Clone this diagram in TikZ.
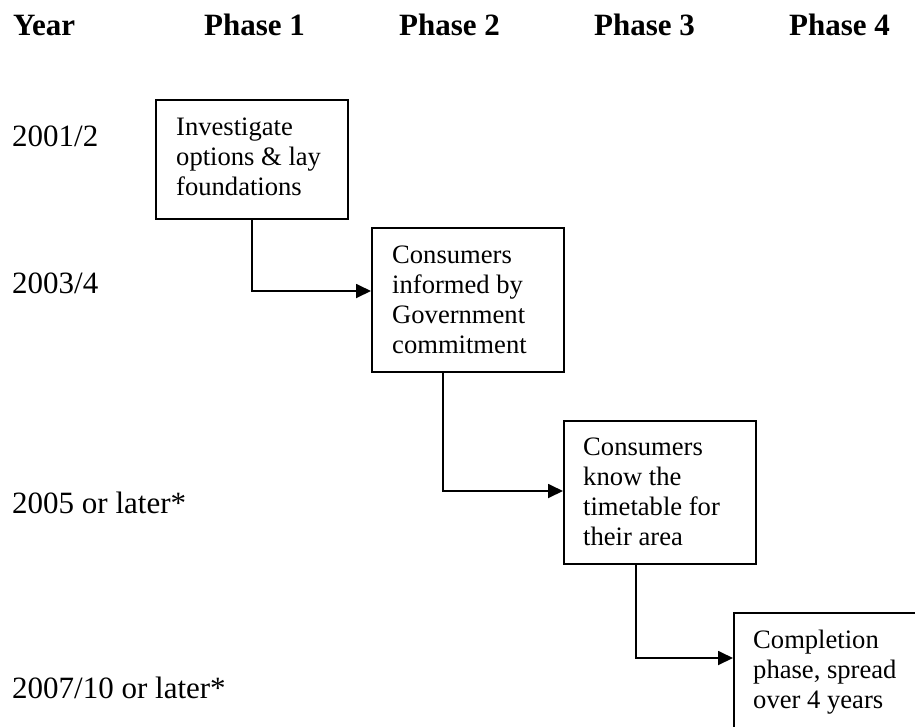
\documentclass[tikz,border=0pt]{standalone}
\usepackage{fontspec}
\setmainfont{Liberation Serif}
\usetikzlibrary{arrows.meta}
\begin{document}
\begin{tikzpicture}[x=1pt,y=-1pt,
  box/.style={draw, line width=1.8pt, inner sep=0pt, anchor=north west},
  boxtext/.style={anchor=base west, inner sep=0pt},
  yeartext/.style={anchor=base west, inner sep=0pt, font=\fontsize{31}{36}\selectfont},
  headtext/.style={anchor=base west, inner sep=0pt, font=\fontsize{31}{36}\selectfont\bfseries},
  conn/.style={line width=1.8pt, -{Triangle[length=15pt,width=14pt]}}]
\useasboundingbox (0,0) rectangle (915,726);
\clip (0,0) rectangle (915,726);
% headers
\node[headtext] (hy) at (13,35) {Year};
\node[headtext] (h1) at (204,35) {Phase 1};
\node[headtext] (h2) at (399,35) {Phase 2};
\node[headtext] (h3) at (594,35) {Phase 3};
\node[headtext] (h4) at (789,35) {Phase 4};
% years
\node[yeartext] (y1) at (12,146) {2001/2};
\node[yeartext] (y2) at (12,293) {2003/4};
\node[yeartext] (y3) at (12,513) {2005 or later*};
\node[yeartext] (y4) at (12,698) {2007/10 or later*};
% boxes
\node[box, minimum width=192pt, minimum height=119pt] (b1) at (155,99) {};
\node[box, minimum width=192pt, minimum height=144pt] (b2) at (371,227) {};
\node[box, minimum width=192pt, minimum height=143pt] (b3) at (563,420) {};
\node[box, minimum width=200pt, minimum height=140pt] (b4) at (733,612) {};
% box texts
\newcommand{\boxlines}[1]{\parbox[t]{190pt}{\fontsize{26.6}{30.3}\selectfont\raggedright #1}}
\node[boxtext] (t1) at (176,135) {\boxlines{Investigate\\options \& lay\\foundations}};
\node[boxtext] (t2) at (392,263) {\boxlines{Consumers\\informed by\\Government\\commitment}};
\node[boxtext] (t3) at (583,455) {\boxlines{Consumers\\know the\\timetable for\\their area}};
\node[boxtext] (t4) at (753,648) {\boxlines{Completion\\phase, spread\\over 4 years}};
% connectors
\coordinate (c1) at (251,291);
\coordinate (c2) at (443,491);
\coordinate (c3) at (636,658);
\draw[conn] (b1.south) |- (c1) -- (c1 -| b2.west);
\draw[conn] (b2.south -| c2) |- (c2 -| b3.west);
\draw[conn] (b3.south -| c3) |- (c3 -| b4.west);
\end{tikzpicture}
\end{document}
